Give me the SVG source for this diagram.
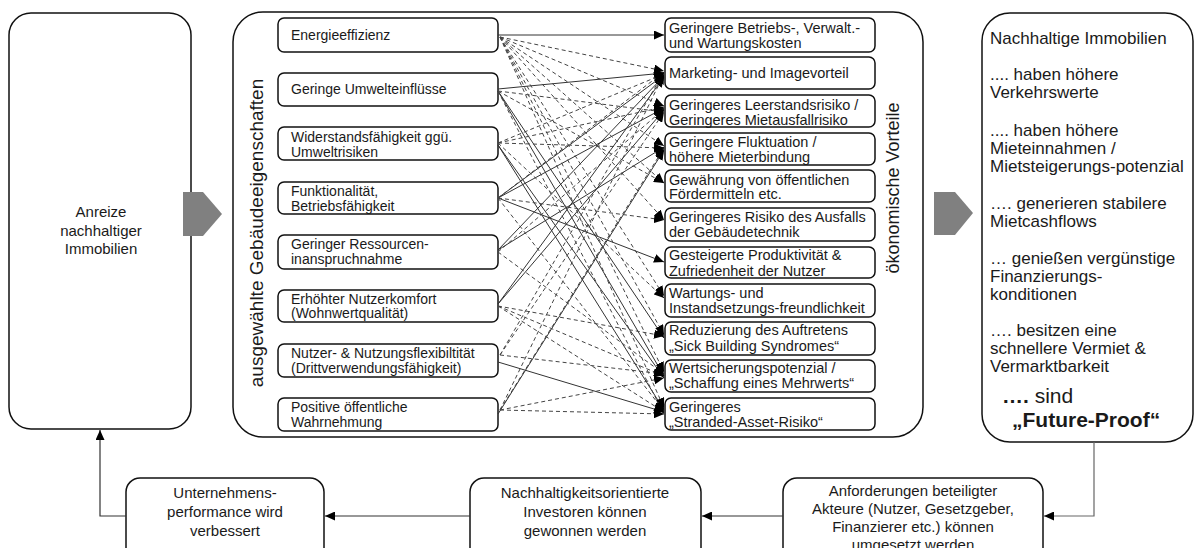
<svg xmlns="http://www.w3.org/2000/svg" width="1195" height="548" viewBox="0 0 1195 548">
<style>
.panel{fill:#fff;stroke:#111;stroke-width:1.5}
.box{fill:#fff;stroke:#111;stroke-width:1.5}
.t{font-family:"Liberation Sans",Arial,sans-serif;font-size:14px;fill:#1a1a1a}
.tr{font-size:14.5px}
.tp{font-size:17px}
.tb{font-size:15px}
.tc{text-anchor:middle}
.big{font-size:21px}
.b{font-weight:bold}
.s{stroke:#333;stroke-width:1;fill:none;marker-end:url(#ah)}
.d{stroke:#444;stroke-width:1;stroke-dasharray:4 3;fill:none;marker-end:url(#ah)}
.chev{fill:#808080}
.flow{stroke:#666;stroke-width:1.2;fill:none;marker-end:url(#ah)}
</style>
<defs>
<marker id="ah" markerUnits="userSpaceOnUse" markerWidth="11" markerHeight="9" refX="10" refY="4.5" orient="auto">
<path d="M0,0 L10,4.5 L0,9 z" fill="#000"/>
</marker>
</defs>

<!-- outer panels -->
<g id="incentives">
<rect class="panel" x="9" y="13" width="182" height="416" rx="22"/>
<text class="t tb tc" x="101" y="217">Anreize</text>
<text class="t tb tc" x="101" y="236">nachhaltiger</text>
<text class="t tb tc" x="101" y="254">Immobilien</text>
</g>
<polygon class="chev" points="183,192 203,192 222,214 203,236 183,236"/>

<g id="core">
<rect class="panel" x="233" y="12" width="690" height="425" rx="30"/>
<text class="t" style="font-size:19px" transform="translate(263,233) rotate(-90)" text-anchor="middle">ausgewählte Gebäudeeigenschaften</text>
<text class="t" style="font-size:18px" transform="translate(899,188) rotate(-90)" text-anchor="middle">ökonomische Vorteile</text>
</g>
<polygon class="chev" points="934,192 955,192 973,213 955,235 934,235"/>

<g id="sustainable">
<rect class="panel" x="982" y="13" width="211" height="429" rx="28"/>
<text class="t tp" x="990" y="44">Nachhaltige Immobilien</text>
<text class="t tp" x="990" y="80">.... haben höhere</text>
<text class="t tp" x="990" y="98">Verkehrswerte</text>
<text class="t tp" x="990" y="136">.... haben höhere</text>
<text class="t tp" x="990" y="154">Mieteinnahmen /</text>
<text class="t tp" x="990" y="172">Mietsteigerungs-potenzial</text>
<text class="t tp" x="990" y="209">…. generieren stabilere</text>
<text class="t tp" x="990" y="227">Mietcashflows</text>
<text class="t tp" x="990" y="264">… genießen vergünstige</text>
<text class="t tp" x="990" y="282">Finanzierungs-</text>
<text class="t tp" x="990" y="300">konditionen</text>
<text class="t tp" x="990" y="336">…. besitzen eine</text>
<text class="t tp" x="990" y="354">schnellere Vermiet &amp;</text>
<text class="t tp" x="990" y="372">Vermarktbarkeit</text>
<text class="t big" x="1002" y="403"><tspan class="b">….</tspan> sind</text>
<text class="t big b" x="1012" y="427">„Future-Proof“</text>
</g>

<!-- building properties -->
<g id="p1"><rect class="box" x="278" y="18" width="220" height="34" rx="6"/><text class="t" x="291" y="40">Energieeffizienz</text></g>
<g id="p2"><rect class="box" x="278" y="73" width="220" height="33" rx="6"/><text class="t" x="291" y="94">Geringe Umwelteinflüsse</text></g>
<g id="p3"><rect class="box" x="278" y="127" width="220" height="33" rx="6"/><text class="t" x="291" y="142">Widerstandsfähigkeit ggü.</text><text class="t" x="291" y="157">Umweltrisiken</text></g>
<g id="p4"><rect class="box" x="278" y="182" width="220" height="32" rx="6"/><text class="t" x="291" y="196">Funktionalität,</text><text class="t" x="291" y="211">Betriebsfähigkeit</text></g>
<g id="p5"><rect class="box" x="278" y="235" width="220" height="34" rx="6"/><text class="t" x="291" y="249">Geringer Ressourcen-</text><text class="t" x="291" y="264">inanspruchnahme</text></g>
<g id="p6"><rect class="box" x="278" y="290" width="220" height="32" rx="6"/><text class="t" x="291" y="304">Erhöhter Nutzerkomfort</text><text class="t" x="291" y="318">(Wohnwertqualität)</text></g>
<g id="p7"><rect class="box" x="278" y="344" width="220" height="33" rx="6"/><text class="t" x="291" y="358">Nutzer- &amp; Nutzungsflexibiltität</text><text class="t" x="291" y="373">(Drittverwendungsfähigkeit)</text></g>
<g id="p8"><rect class="box" x="278" y="398" width="220" height="33" rx="6"/><text class="t" x="291" y="412">Positive öffentliche</text><text class="t" x="291" y="427">Wahrnehmung</text></g>

<!-- economic benefits -->
<g id="b1"><rect class="box" x="665" y="18" width="210" height="34" rx="6"/><text class="t tr" x="669" y="33">Geringere Betriebs-, Verwalt.-</text><text class="t tr" x="669" y="48">und Wartungskosten</text></g>
<g id="b2"><rect class="box" x="665" y="57" width="210" height="32" rx="6"/><text class="t tr" x="669" y="78">Marketing- und Imagevorteil</text></g>
<g id="b3"><rect class="box" x="665" y="95" width="210" height="32" rx="6"/><text class="t tr" x="669" y="110">Geringeres Leerstandsrisiko /</text><text class="t tr" x="669" y="125">Geringeres Mietausfallrisiko</text></g>
<g id="b4"><rect class="box" x="665" y="133" width="210" height="32" rx="6"/><text class="t tr" x="669" y="147">Geringere Fluktuation /</text><text class="t tr" x="669" y="162">höhere Mieterbindung</text></g>
<g id="b5"><rect class="box" x="665" y="170" width="210" height="32" rx="6"/><text class="t tr" x="669" y="185">Gewährung von öffentlichen</text><text class="t tr" x="669" y="199">Fördermitteln etc.</text></g>
<g id="b6"><rect class="box" x="665" y="208" width="210" height="33" rx="6"/><text class="t tr" x="669" y="222">Geringeres Risiko des Ausfalls</text><text class="t tr" x="669" y="237">der Gebäudetechnik</text></g>
<g id="b7"><rect class="box" x="665" y="247" width="210" height="31" rx="6"/><text class="t tr" x="669" y="260">Gesteigerte Produktivität &amp;</text><text class="t tr" x="669" y="276">Zufriedenheit der Nutzer</text></g>
<g id="b8"><rect class="box" x="665" y="284" width="210" height="33" rx="6"/><text class="t tr" x="669" y="298">Wartungs- und</text><text class="t tr" x="669" y="313">Instandsetzungs-freundlichkeit</text></g>
<g id="b9"><rect class="box" x="665" y="322" width="210" height="33" rx="6"/><text class="t tr" x="669" y="335">Reduzierung des Auftretens</text><text class="t tr" x="669" y="351">„Sick Building Syndromes“</text></g>
<g id="b10"><rect class="box" x="665" y="360" width="210" height="32" rx="6"/><text class="t tr" x="669" y="373">Wertsicherungspotenzial /</text><text class="t tr" x="669" y="388">„Schaffung eines Mehrwerts“</text></g>
<g id="b11"><rect class="box" x="665" y="398" width="210" height="32" rx="6"/><text class="t tr" x="669" y="412">Geringeres</text><text class="t tr" x="669" y="427">„Stranded-Asset-Risiko“</text></g>

<!-- cycle -->
<g id="stakeholders"><rect class="box" x="783" y="478" width="260" height="90" rx="14"/>
<text class="t tb tc" x="913" y="496">Anforderungen beteiligter</text>
<text class="t tb tc" x="913" y="514">Akteure (Nutzer, Gesetzgeber,</text>
<text class="t tb tc" x="913" y="532">Finanzierer etc.) können</text>
<text class="t tb tc" x="913" y="550">umgesetzt werden</text></g>
<g id="investors"><rect class="box" x="470" y="478" width="231" height="90" rx="14"/>
<text class="t tb tc" x="585" y="498">Nachhaltigkeitsorientierte</text>
<text class="t tb tc" x="585" y="517">Investoren können</text>
<text class="t tb tc" x="585" y="536">gewonnen werden</text></g>
<g id="performance"><rect class="box" x="126" y="478" width="198" height="90" rx="14"/>
<text class="t tb tc" x="225" y="498">Unternehmens-</text>
<text class="t tb tc" x="225" y="517">performance wird</text>
<text class="t tb tc" x="225" y="536">verbessert</text></g>

<g id="connectors">
<!-- cycle flow -->
<polyline class="flow" points="1094,442 1094,516 1044,516"/>
<line class="flow" style="stroke:#333" x1="783" y1="516" x2="702" y2="516"/>
<line class="flow" style="stroke:#333" x1="470" y1="516" x2="325" y2="516"/>
<polyline class="flow" style="stroke:#333" points="126,516 100,516 100,430"/>

<!-- property to benefit links, solid -->
<line class="s" x1="498" y1="35" x2="664" y2="35"/>
<line class="s" x1="498" y1="89" x2="664" y2="73"/>
<line class="s" x1="498" y1="91" x2="664" y2="376"/>
<line class="s" x1="498" y1="91" x2="664" y2="338"/>
<line class="s" x1="498" y1="145" x2="664" y2="378"/>
<line class="s" x1="498" y1="145" x2="664" y2="410"/>
<line class="s" x1="498" y1="198" x2="664" y2="75"/>
<line class="s" x1="498" y1="198" x2="664" y2="108"/>
<line class="s" x1="498" y1="198" x2="664" y2="262"/>
<line class="s" x1="498" y1="250" x2="664" y2="76"/>
<line class="s" x1="498" y1="250" x2="664" y2="147"/>
<line class="s" x1="498" y1="304" x2="664" y2="77"/>
<line class="s" x1="498" y1="304" x2="664" y2="110"/>
<line class="s" x1="498" y1="362" x2="664" y2="412"/>
<line class="s" x1="498" y1="414" x2="664" y2="150"/>

<!-- property to benefit links, dashed -->
<line class="d" x1="500" y1="37" x2="664" y2="71"/>
<line class="d" x1="500" y1="37" x2="664" y2="106"/>
<line class="d" x1="500" y1="37" x2="664" y2="146"/>
<line class="d" x1="500" y1="37" x2="664" y2="183"/>
<line class="d" x1="500" y1="37" x2="664" y2="220"/>
<line class="d" x1="500" y1="37" x2="664" y2="296"/>
<line class="d" x1="500" y1="37" x2="664" y2="335"/>
<line class="d" x1="500" y1="37" x2="664" y2="372"/>
<line class="d" x1="500" y1="37" x2="664" y2="408"/>
<line class="d" x1="498" y1="91" x2="664" y2="183"/>
<line class="d" x1="498" y1="91" x2="664" y2="112"/>
<line class="d" x1="498" y1="91" x2="664" y2="414"/>
<line class="d" x1="498" y1="143" x2="664" y2="74"/>
<line class="d" x1="498" y1="143" x2="664" y2="107"/>
<line class="d" x1="498" y1="143" x2="664" y2="148"/>
<line class="d" x1="498" y1="143" x2="664" y2="298"/>
<line class="d" x1="498" y1="198" x2="664" y2="72"/>
<line class="d" x1="498" y1="198" x2="664" y2="220"/>
<line class="d" x1="498" y1="198" x2="664" y2="411"/>
<line class="d" x1="498" y1="252" x2="664" y2="109"/>
<line class="d" x1="498" y1="252" x2="664" y2="374"/>
<line class="d" x1="498" y1="306" x2="664" y2="336"/>
<line class="d" x1="498" y1="306" x2="664" y2="376"/>
<line class="d" x1="498" y1="306" x2="664" y2="412"/>
<line class="d" x1="500" y1="355" x2="664" y2="374"/>
<line class="d" x1="500" y1="355" x2="664" y2="72"/>
<line class="d" x1="500" y1="355" x2="664" y2="112"/>
<line class="d" x1="500" y1="410" x2="664" y2="414"/>
<line class="d" x1="500" y1="410" x2="664" y2="378"/>
<line class="d" x1="500" y1="410" x2="664" y2="74"/>
<line class="d" x1="500" y1="410" x2="664" y2="148"/>
</g>
</svg>
